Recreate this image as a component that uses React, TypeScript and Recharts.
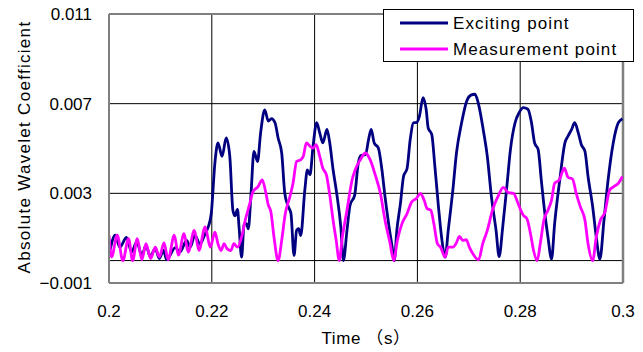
import React from "react";
import {
  CartesianGrid,
  Legend,
  Line,
  LineChart,
  ReferenceLine,
  XAxis,
  YAxis,
} from "recharts";

// Values, in units of 1e-3 (peaks, troughs and bends).
const exciteTime = [
  0.2002, 0.2012, 0.2021, 0.2034, 0.2044, 0.2054, 0.2064, 0.2072, 0.208, 0.209,
  0.2098, 0.2106, 0.2112, 0.2129, 0.2138, 0.2151, 0.2158, 0.2167, 0.2177, 0.2187,
  0.2193, 0.2199, 0.2206, 0.2212, 0.222, 0.2228, 0.2235, 0.2241, 0.2245, 0.225,
  0.2253, 0.2258, 0.2263, 0.2267, 0.2271, 0.2276, 0.2282, 0.2289, 0.2295, 0.2303,
  0.231, 0.2316, 0.2323, 0.2329, 0.2336, 0.2342, 0.2349, 0.2354, 0.236, 0.2365,
  0.2369, 0.2373, 0.2381, 0.2386, 0.2391, 0.2397, 0.2404, 0.241, 0.2416, 0.2424,
  0.2429, 0.2436, 0.2443, 0.2451, 0.2456, 0.2463, 0.2469, 0.2478, 0.2485, 0.249,
  0.2499, 0.2505, 0.251, 0.2516, 0.2524, 0.2531, 0.2537, 0.2544, 0.2551, 0.2555,
  0.256, 0.2567, 0.2573, 0.258, 0.2586, 0.2593, 0.2598, 0.2604, 0.2611, 0.2617,
  0.2621, 0.2628, 0.2634, 0.2641, 0.2647, 0.2654, 0.266, 0.2669, 0.2676, 0.2686,
  0.2696, 0.2704, 0.2712, 0.2719, 0.2728, 0.2736, 0.2744, 0.2753, 0.2759, 0.2766,
  0.2774, 0.2781, 0.279, 0.2798, 0.2806, 0.2815, 0.2822, 0.2828, 0.2835, 0.2841,
  0.2848, 0.2854, 0.2861, 0.2867, 0.2877, 0.2887, 0.2893, 0.29, 0.2906, 0.2913,
  0.2919, 0.2926, 0.2932, 0.2941, 0.2948, 0.2955, 0.2963, 0.2971, 0.2981, 0.2991,
  0.2999,
];
const exciteValue = [
  0.46, 1.13, 0.6, 1.03, 0.38, 0.83, 0.24, 0.68, 0.19, 0.53,
  0.09, 0.46, 0.04, 0.58, 0.38, 0.9, 0.6, 1.13, 0.73, 1.2,
  1.5, 2.1, 4.35, 5.25, 4.65, 5.47, 4.65, 2.25, 2.0, 2.28,
  1.5, 0.15, 1.65, 1.65, 1.42, 2.85, 4.87, 4.42, 5.7, 6.72,
  6.22, 6.33, 6.15, 5.47, 4.8, 3.0, 2.4, 2.1, 0.22, 1.35,
  1.42, 1.12, 3.15, 4.05, 3.82, 5.1, 6.15, 5.7, 5.25, 5.85,
  5.32, 4.05, 3.0, 1.5, 0.0, 1.35, 2.47, 2.92, 4.35, 4.68,
  4.72, 5.4, 5.85, 5.25, 5.02, 4.05, 2.85, 1.65, 0.6, 0.0,
  1.35, 2.55, 3.75, 4.12, 5.4, 6.15, 6.15, 6.45, 7.27, 6.75,
  5.92, 5.62, 4.2, 2.4, 1.05, 0.15, 1.35, 3.15, 4.8, 6.15,
  7.12, 7.38, 7.42, 6.97, 5.85, 4.65, 2.85, 1.35, 0.18, 1.5,
  3.3, 4.95, 6.15, 6.6, 6.82, 6.75, 6.15, 5.25, 4.95, 3.6,
  2.1, 1.05, 0.07, 1.65, 3.6, 5.25, 5.55, 5.85, 6.15, 5.7,
  5.17, 4.87, 3.75, 2.4, 1.05, 0.07, 1.8, 3.6, 5.25, 6.15,
  6.33,
];

const measureTime = [
  0.2, 0.2005, 0.2016, 0.2027, 0.2038, 0.2046, 0.2055, 0.2064, 0.2072, 0.2081,
  0.209, 0.2098, 0.2107, 0.2115, 0.2127, 0.2135, 0.2146, 0.2154, 0.2166, 0.2175,
  0.2187, 0.2197, 0.2206, 0.2212, 0.2218, 0.2224, 0.223, 0.2237, 0.2243, 0.225,
  0.2258, 0.2265, 0.2274, 0.228, 0.229, 0.2298, 0.2304, 0.231, 0.2315, 0.2321,
  0.2329, 0.2336, 0.2343, 0.2352, 0.2358, 0.2365, 0.2373, 0.2378, 0.2384, 0.2391,
  0.2397, 0.2403, 0.241, 0.2416, 0.2423, 0.2429, 0.2436, 0.2442, 0.2448, 0.2454,
  0.2463, 0.2473, 0.2479, 0.2489, 0.2499, 0.2508, 0.2518, 0.2528, 0.2537, 0.2547,
  0.2554, 0.2561, 0.257, 0.258, 0.2589, 0.2598, 0.2606, 0.2613, 0.2619, 0.2626,
  0.2632, 0.2639, 0.2645, 0.2654, 0.266, 0.2669, 0.2675, 0.2682, 0.2688, 0.2695,
  0.2701, 0.2708, 0.2719, 0.2727, 0.2736, 0.2746, 0.2758, 0.2767, 0.2777, 0.2787,
  0.2795, 0.2801, 0.2806, 0.2813, 0.282, 0.2826, 0.2833, 0.2839, 0.2846, 0.2854,
  0.2861, 0.2867, 0.2876, 0.2886, 0.2893, 0.2902, 0.2909, 0.2917, 0.2926, 0.2932,
  0.2941, 0.2948, 0.2956, 0.2965, 0.2974, 0.2982, 0.2991, 0.2999,
];
const measureValue = [
  1.13, 0.16, 1.13, 0.0, 0.98, 0.0, 0.98, 0.04, 0.76, 0.09,
  0.6, 0.16, 0.79, 0.04, 1.13, 0.24, 1.2, 0.38, 1.35, 0.46,
  1.5, 0.6, 1.27, 0.75, 0.45, 0.75, 0.52, 0.45, 0.75, 0.6,
  1.05, 1.8, 2.55, 3.07, 3.3, 3.6, 3.15, 2.47, 2.17, 1.05,
  0.0, 0.9, 2.1, 2.85, 3.45, 4.42, 4.5, 4.65, 5.25, 5.1,
  5.02, 5.17, 4.65, 4.12, 3.82, 3.0, 1.8, 0.9, 0.0, 1.05,
  2.25, 3.6, 4.05, 4.5, 4.8, 4.5, 3.82, 3.0, 1.8, 0.75,
  0.0, 0.9, 1.65, 2.1, 2.62, 2.77, 3.0, 2.7, 2.32, 2.25,
  1.65, 0.75, 0.6, 0.15, 0.6, 0.6, 0.75, 1.08, 0.9, 0.93,
  0.6, 0.3, 0.03, 0.75, 1.35, 2.25, 2.92, 3.27, 3.03, 3.0,
  2.6, 2.25, 2.02, 1.87, 1.2, 0.45, 0.0, 0.75, 1.8, 2.25,
  2.7, 3.45, 3.6, 4.12, 3.72, 3.63, 3.0, 2.4, 1.8, 0.75,
  0.0, 1.05, 1.8, 2.17, 3.15, 3.3, 3.45, 3.75,
];

const xTicks = [0.2, 0.22, 0.24, 0.26, 0.28, 0.3];
const yTicks = [-0.001, 0.003, 0.007, 0.011];

const exciteData = exciteTime.map((t, i) => ({ t, v: exciteValue[i] * 1e-3 }));
const measureData = measureTime.map((t, i) => ({ t, v: measureValue[i] * 1e-3 }));

const FONT = "'Liberation Sans', Arial, 'Noto Sans CJK JP', sans-serif";
const NAVY = "#000080";
const MAGENTA = "#ff00ff";
const FRAME = "#808080";

const fmtX = (v: number) => String(+v.toFixed(2));
const fmtY = (v: number) => (v < 0 ? "\u2212" + Math.abs(v).toFixed(3) : v.toFixed(3));

const tickStyle = { fill: "#000", fontSize: 17, fontFamily: FONT };

function LegendBox({ payload }: any) {
  const items = payload ?? [];
  return (
    <svg width={251} height={53} style={{ display: "block" }}>
      <rect x={0.5} y={0.5} width={250} height={52} fill="#fff" stroke="#000" />
      {items.map((p: any, i: number) => {
        const cy = 14 + i * 26;
        return (
          <g key={p.value}>
            <line x1={17} x2={65} y1={cy} y2={cy} stroke={p.color} strokeWidth={2.8} />
            <text
              x={70}
              y={cy}
              dominantBaseline="central"
              fontSize={17}
              fontFamily={FONT}
              letterSpacing={1.1}
              fill="#000"
            >
              {p.value}
            </text>
          </g>
        );
      })}
    </svg>
  );
}

export default function App() {
  return (
    <div style={{ position: "absolute", left: 0, top: 0, width: 643, height: 352, background: "#fff" }}>
      <LineChart width={643} height={352} margin={{ top: 14, right: 20, bottom: 0, left: 0 }}>
        <CartesianGrid stroke="#000" strokeWidth={1} />
        <XAxis
          type="number"
          dataKey="t"
          domain={[0.2, 0.3]}
          ticks={xTicks}
          tickFormatter={fmtX}
          tick={tickStyle}
          tickLine={false}
          tickSize={0}
          tickMargin={22}
          height={69}
          axisLine={{ stroke: FRAME, strokeWidth: 2 }}
          allowDataOverflow
          label={{
            content: () => (
              <text x={366} y={338} textAnchor="middle" dominantBaseline="central" fontSize={17} fontFamily={FONT} letterSpacing={0.6} fill="#000">
                Time （s）
              </text>
            ),
          }}
        />
        <YAxis
          type="number"
          domain={[-0.001, 0.011]}
          ticks={yTicks}
          tickFormatter={fmtY}
          tick={tickStyle}
          tickLine={false}
          tickSize={0}
          tickMargin={17}
          width={109}
          axisLine={{ stroke: FRAME, strokeWidth: 2 }}
          allowDataOverflow
          label={{
            content: () => (
              <text
                x={24}
                y={147}
                transform="rotate(-90 24 147)"
                textAnchor="middle"
                dominantBaseline="central"
                fontSize={17}
                fontFamily={FONT}
                letterSpacing={1.3}
                fill="#000"
              >
                Absolute Wavelet Coefficient
              </text>
            ),
          }}
        />
        <ReferenceLine y={0} stroke="#000" strokeWidth={1} />
        <ReferenceLine y={0.011} stroke={FRAME} strokeWidth={2} />
        <ReferenceLine x={0.3} stroke={FRAME} strokeWidth={2.5} />
        <Line
          data={exciteData}
          dataKey="v"
          name="Exciting point"
          type="monotone"
          stroke={NAVY}
          strokeWidth={2.8}
          dot={false}
          isAnimationActive={false}
        />
        <Line
          data={measureData}
          dataKey="v"
          name="Measurement point"
          type="monotone"
          stroke={MAGENTA}
          strokeWidth={2.8}
          dot={false}
          isAnimationActive={false}
        />
        <Legend
          layout="vertical"
          align="center"
          verticalAlign="middle"
          content={(props: any) => <LegendBox payload={props.payload} />}
          wrapperStyle={{ position: "absolute", top: 9, left: 383, width: 251, height: 53 }}
        />
      </LineChart>
    </div>
  );
}
